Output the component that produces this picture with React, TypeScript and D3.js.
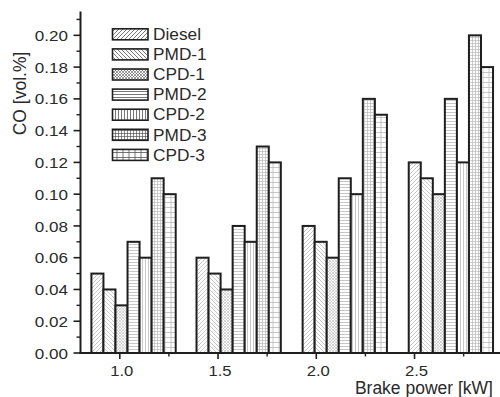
import React from "react";
import * as d3 from "d3";

// Brake power at which each group of bars was measured (kW)
const brakePower = [1.07, 1.605, 2.145, 2.685];
// Fuel blends, in legend order
const fuels = ["Diesel", "PMD-1", "CPD-1", "PMD-2", "CPD-2", "PMD-3", "CPD-3"];
// CO emissions [vol.%] per fuel, one value per brake power level
const coDiesel = [0.05, 0.06, 0.08, 0.12];
const coPMD1 = [0.04, 0.05, 0.07, 0.11];
const coCPD1 = [0.03, 0.04, 0.06, 0.1];
const coPMD2 = [0.07, 0.08, 0.11, 0.16];
const coCPD2 = [0.06, 0.07, 0.1, 0.12];
const coPMD3 = [0.11, 0.13, 0.16, 0.2];
const coCPD3 = [0.1, 0.12, 0.15, 0.18];
const coValues = [coDiesel, coPMD1, coCPD1, coPMD2, coCPD2, coPMD3, coCPD3];

const xMajorTicks = [1.0, 1.5, 2.0, 2.5];
const xMinorTicks = [1.25, 1.75, 2.25, 2.75];
const yMajorTicks = [0, 0.02, 0.04, 0.06, 0.08, 0.1, 0.12, 0.14, 0.16, 0.18, 0.2];
const yMinorTicks = d3.range(1, 22, 2).map((i) => i / 100);

const W = 500;
const H = 397;
const FONT = "'Liberation Sans', Arial, Helvetica, sans-serif";
const TEXT = "#2a2a2a";
const INK = "#1e1e1e";

const x = d3.scaleLinear().domain([0.8, 2.935]).range([80.5, 500]);
const y = d3.scaleLinear().domain([0, 0.215]).range([353, 11.5]);
const groupWidth = 84.3;
const inner = d3.scaleBand<string>().domain(fuels).range([-groupWidth / 2, groupWidth / 2]);

type Hatch = { w: number; h: number; paths: string[]; sw: number };
const hatches: Hatch[] = [
  { w: 4, h: 4, paths: ["M-1,5 L5,-1", "M-1,1 L1,-1", "M3,5 L5,3"], sw: 0.8 },
  { w: 4, h: 4, paths: ["M-1,-1 L5,5", "M3,-1 L5,1", "M-1,3 L1,5"], sw: 0.8 },
  {
    w: 3,
    h: 3,
    paths: ["M-1,4 L4,-1", "M-1,1 L1,-1", "M2,4 L4,2", "M-1,-1 L4,4", "M2,-1 L4,1", "M-1,2 L1,4"],
    sw: 0.6,
  },
  { w: 3, h: 3, paths: ["M0,1.5 L3,1.5"], sw: 0.8 },
  { w: 3, h: 3, paths: ["M1.5,0 L1.5,3"], sw: 0.8 },
  { w: 3, h: 3, paths: ["M0,1.5 L3,1.5", "M1.5,0 L1.5,3"], sw: 0.7 },
  { w: 6, h: 5, paths: ["M0,2.5 L6,2.5", "M3,0 L3,5"], sw: 0.8 },
];

function patternDefs(prefix: string, color: string) {
  return hatches.map((h, i) => (
    <pattern key={prefix + i} id={`${prefix}${i}`} width={h.w} height={h.h} patternUnits="userSpaceOnUse">
      <rect width={h.w} height={h.h} fill="#fff" />
      {h.paths.map((p, k) => (
        <path key={k} d={p} stroke={color} strokeWidth={h.sw} fill="none" />
      ))}
    </pattern>
  ));
}

// Text slightly widened horizontally, like the wide sans face of the axes
function Label(props: {
  x: number;
  y: number;
  size: number;
  anchor?: "start" | "middle" | "end";
  stretch?: number;
  dy?: string;
  children: React.ReactNode;
}) {
  const s = props.stretch ?? 1.1;
  return (
    <text
      transform={`translate(${props.x},${props.y}) scale(${s},1)`}
      textAnchor={props.anchor ?? "start"}
      dy={props.dy}
      fontSize={props.size}
      fill={TEXT}
    >
      {props.children}
    </text>
  );
}

export default function App() {
  const bw = inner.bandwidth();
  const x0 = x.range()[0];
  return (
    <svg
      width={W}
      height={H}
      style={{ position: "absolute", left: 0, top: 0, background: "#fff" }}
      fontFamily={FONT}
    >
      <defs>
        {patternDefs("bar", "#b9b9b9")}
        {patternDefs("leg", "#555")}
      </defs>

      {/* bars */}
      {brakePower.map((bp, gi) =>
        fuels.map((f, si) => {
          const v = coValues[si][gi];
          return (
            <rect
              key={`${gi}-${si}`}
              x={x(bp) + (inner(f) as number)}
              y={y(v)}
              width={bw}
              height={y(0) - y(v)}
              fill={`url(#bar${si})`}
              stroke={INK}
              strokeWidth={2}
            />
          );
        })
      )}

      {/* y axis */}
      <line x1={x0} x2={x0} y1={y(0) + 1} y2={y.range()[1]} stroke={INK} strokeWidth={2} />
      {yMajorTicks.map((t) => (
        <g key={`ym${t}`}>
          <line x1={x0 - 7} x2={x0} y1={y(t)} y2={y(t)} stroke={INK} strokeWidth={1.6} />
          <Label x={68} y={y(t)} dy="0.36em" anchor="end" size={15.5} stretch={1.1}>
            {d3.format(".2f")(t)}
          </Label>
        </g>
      ))}
      {yMinorTicks.map((t) => (
        <line key={`yn${t}`} x1={x0 - 4} x2={x0} y1={y(t)} y2={y(t)} stroke={INK} strokeWidth={1.4} />
      ))}
      <text transform={`translate(26,93.5) rotate(-90)`} textAnchor="middle" fontSize={17.5} fill={TEXT}>
        CO [vol.%]
      </text>

      {/* x axis */}
      <line x1={x0 - 1} x2={W} y1={y(0)} y2={y(0)} stroke={INK} strokeWidth={2} />
      {xMajorTicks.map((t) => (
        <g key={`xm${t}`}>
          <line x1={x(t)} x2={x(t)} y1={y(0)} y2={y(0) + 6} stroke={INK} strokeWidth={1.6} />
          <Label x={x(t) + 2} y={375.5} anchor="middle" size={14.5} stretch={1.15}>
            {d3.format(".1f")(t)}
          </Label>
        </g>
      ))}
      {xMinorTicks.map((t) => (
        <line key={`xn${t}`} x1={x(t)} x2={x(t)} y1={y(0)} y2={y(0) + 3.5} stroke={INK} strokeWidth={1.4} />
      ))}
      <text x={493} y={394} textAnchor="end" fontSize={17.5} fill={TEXT}>
        Brake power [kW]
      </text>

      {/* legend */}
      {fuels.map((f, i) => {
        const cy = 34.3 + i * 20.1;
        return (
          <g key={`lg${f}`}>
            <rect
              x={112.5}
              y={cy - 5.5}
              width={35.5}
              height={11}
              fill={`url(#leg${i})`}
              stroke={INK}
              strokeWidth={1.6}
            />
            <Label x={153} y={cy} dy="0.36em" size={16} stretch={1.08}>
              {f}
            </Label>
          </g>
        );
      })}
    </svg>
  );
}
